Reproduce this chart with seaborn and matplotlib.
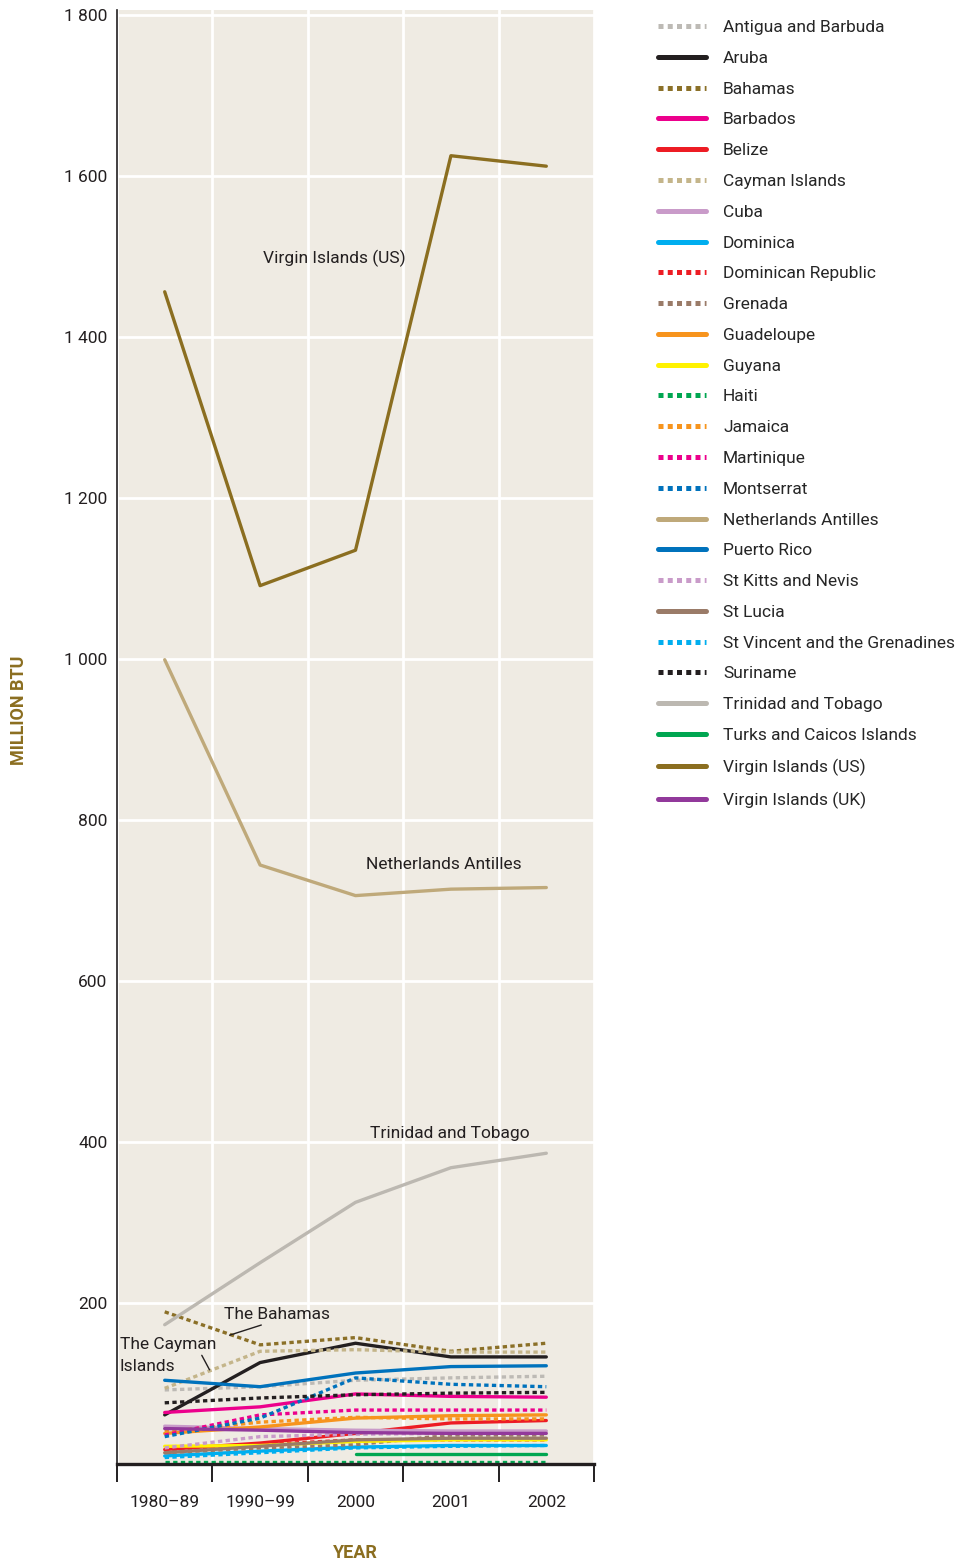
import numpy as np
import pandas as pd
import matplotlib
matplotlib.use("Agg")
import matplotlib.pyplot as plt
import seaborn as sns

# periodos del eje x
periods = ["1980–89", "1990–99", "2000", "2001", "2002"]

# consumo por país (million BTU)
antigua = [92, 96, 104, 107, 109]
aruba = [61, 126, 150, 133, 133]
bahamas = [189, 148, 157, 140, 150]
barbados = [64, 71, 87, 84, 83]
belize = [18, 26, 38, 51, 54]
cayman = [94, 140, 142, 139, 139]
cuba = [47, 44, 42, 41, 41]
dominica = [10, 16, 21, 23, 23]
dominican_rep = [17, 24, 30, 30, 30]
grenada = [14, 20, 24, 36, 36]
guadeloupe = [38, 46, 57, 60, 61]
guyana = [22, 23, 28, 30, 30]
haiti = [2, 2, 2, 2, 2]
jamaica = [40, 52, 58, 56, 56]
martinique = [36, 61, 67, 67, 67]
montserrat = [34, 57, 107, 99, 96]
neth_antilles = [999, 744, 706, 714, 716]
puerto_rico = [104, 96, 113, 121, 122]
st_kitts = [20, 34, 37, 38, 38]
st_lucia = [14, 22, 30, 32, 32]
st_vincent = [8, 14, 20, 22, 23]
suriname = [76, 82, 86, 88, 89]
trinidad = [173, 250, 325, 368, 386]
turks = [np.nan, np.nan, 12, 12, 12]
vi_us = [1456, 1091, 1135, 1625, 1612]
vi_uk = [44, 42, 39, 38, 38]

DOT = (0, (1.3, 1.0))
series = [
    ("Antigua and Barbuda", antigua, "#bdbab5", DOT),
    ("Aruba", aruba, "#231f20", "-"),
    ("Bahamas", bahamas, "#8b7028", DOT),
    ("Barbados", barbados, "#ec008c", "-"),
    ("Belize", belize, "#ed1c24", "-"),
    ("Cayman Islands", cayman, "#c4b58a", DOT),
    ("Cuba", cuba, "#c99bc9", "-"),
    ("Dominica", dominica, "#00aeef", "-"),
    ("Dominican Republic", dominican_rep, "#ed1c24", DOT),
    ("Grenada", grenada, "#9a7b68", DOT),
    ("Guadeloupe", guadeloupe, "#f7941d", "-"),
    ("Guyana", guyana, "#fff200", "-"),
    ("Haiti", haiti, "#00a651", DOT),
    ("Jamaica", jamaica, "#f7941d", DOT),
    ("Martinique", martinique, "#ec008c", DOT),
    ("Montserrat", montserrat, "#0072bc", DOT),
    ("Netherlands Antilles", neth_antilles, "#bfa97a", "-"),
    ("Puerto Rico", puerto_rico, "#0072bc", "-"),
    ("St Kitts and Nevis", st_kitts, "#c99bc9", DOT),
    ("St Lucia", st_lucia, "#9a7b68", "-"),
    ("St Vincent and the Grenadines", st_vincent, "#00aeef", DOT),
    ("Suriname", suriname, "#231f20", DOT),
    ("Trinidad and Tobago", trinidad, "#bcb8b1", "-"),
    ("Turks and Caicos Islands", turks, "#00a651", "-"),
    ("Virgin Islands (US)", vi_us, "#8b6e20", "-"),
    ("Virgin Islands (UK)", vi_uk, "#92399b", "-"),
]

sns.set_style("white")
plt.rcParams["font.family"] = ["Roboto", "DejaVu Sans"]
OLIVE = "#8b6e20"
INK = "#231f20"

fig = plt.figure(figsize=(9.68, 15.62), dpi=100)
ax = fig.add_axes([117 / 968, 1 - 1464 / 1562, (594 - 117) / 968, (1464 - 10) / 1562])
ax.set_facecolor("#efebe3")

x = np.arange(len(periods))
handles = []
for name, vals, color, ls in series:
    df = pd.DataFrame({"periodo": x, "valor": vals}).dropna()
    sns.lineplot(data=df, x="periodo", y="valor", ax=ax, color=color,
                 linestyle=ls, linewidth=2.4, label=name, legend=False)
    handles.append(ax.lines[-1])

ax.set_xlim(-0.5, 4.5)
ax.set_ylim(0, 1806)

# ejes
ax.set_yticks(np.arange(0, 1801, 200))
ax.set_yticklabels(["" if v == 0 else f"{v:,}".replace(",", " ") for v in range(0, 1801, 200)])
ax.set_xticks(x)
ax.set_xticklabels(periods)
ax.set_xticks(np.arange(-0.5, 4.6, 1), minor=True)
ax.tick_params(axis="y", length=0, pad=7, labelsize=12.5, labelcolor=INK)
ax.tick_params(axis="x", which="major", length=0, pad=22, labelsize=12.5, labelcolor=INK)
ax.tick_params(axis="x", which="minor", bottom=True, length=13, width=1.4,
               direction="out", color=INK)
ax.grid(axis="y", which="major", color="white", linewidth=2)
ax.grid(axis="x", which="minor", color="white", linewidth=2)
ax.set_axisbelow(True)
for s in ["top", "right"]:
    ax.spines[s].set_visible(False)
ax.spines["bottom"].set_linewidth(2.4)
ax.spines["bottom"].set_color(INK)
ax.spines["left"].set_linewidth(1.2)
ax.spines["left"].set_color(INK)

ax.set_xlabel("YEAR", fontsize=13, fontweight="bold", color=OLIVE, labelpad=25)
ax.set_ylabel("MILLION BTU", fontsize=13, fontweight="bold", color=OLIVE)
ax.yaxis.set_label_coords(-0.187, (1464 - 710) / 1454)

# etiquetas de series
txt = dict(fontsize=12.5, color=INK)
ax.text(1.78, 1497, "Virgin Islands (US)", ha="center", va="center", **txt)
ax.text(2.93, 745, "Netherlands Antilles", ha="center", va="center", **txt)
ax.text(2.99, 410, "Trinidad and Tobago", ha="center", va="center", **txt)
ax.annotate("The Bahamas", xy=(0.68, 160), xytext=(0.62, 186), ha="left", va="center",
            arrowprops=dict(arrowstyle="-", lw=1, color=INK, shrinkA=0, shrinkB=0,
                            relpos=(0.45, 0)), **txt)
ax.annotate("The Cayman\nIslands", xy=(0.47, 117), xytext=(-0.47, 135), ha="left", va="center",
            linespacing=1.55,
            arrowprops=dict(arrowstyle="-", lw=1, color=INK, shrinkA=0, shrinkB=0,
                            relpos=(0.85, 0.5)), **txt)

leg = fig.legend(handles, [s[0] for s in series], loc="upper left",
                 bbox_to_anchor=(658 / 968, 1 - 20 / 1562), frameon=False,
                 fontsize=12.5, handlelength=2.75, handletextpad=1.0, labelspacing=0.9,
                 borderaxespad=0, borderpad=0)
for line in leg.get_lines():
    line.set_linewidth(3.6)
    if line.get_linestyle() != "-":
        line.set_dashes((1.0, 0.85))

fig.savefig("out.png", dpi=100, facecolor="white")
